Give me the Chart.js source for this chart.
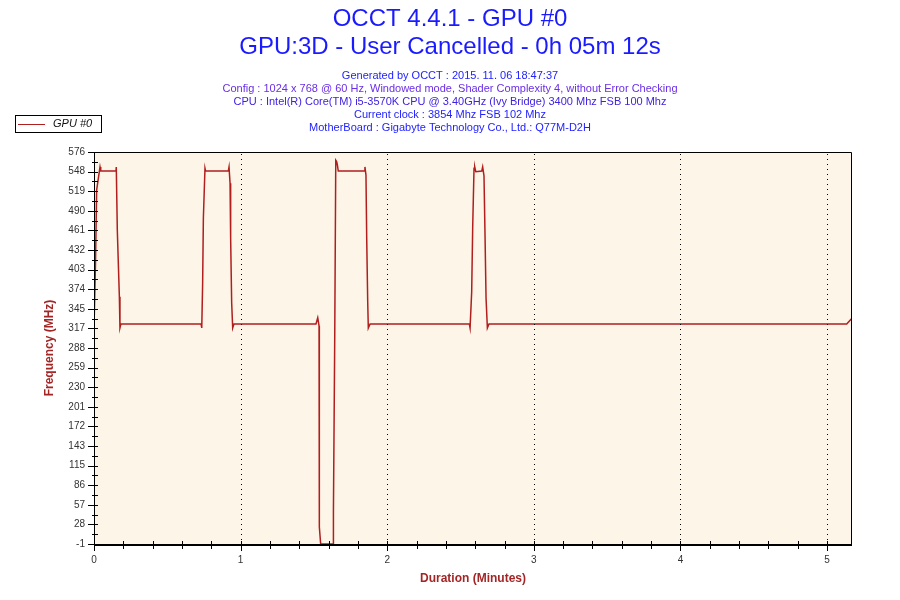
<!DOCTYPE html>
<html>
<head>
<meta charset="utf-8">
<script src="https://cdn.jsdelivr.net/npm/chart.js@4/dist/chart.umd.min.js"></script>
<style>
  html, body { margin: 0; padding: 0; background: #fff; }
  #wrap { width: 900px; height: 600px; }
</style>
</head>
<body>
<div id="wrap"><canvas id="gpuChart" width="900" height="600"></canvas></div>
<script>
// readings (minutes, MHz)
const times = [0, 0.010, 0.018, 0.041, 0.046, 0.150, 0.152, 0.159, 0.173, 0.177, 0.184,
  0.730, 0.735, 0.741, 0.746, 0.757, 0.761, 0.916, 0.921, 0.928, 0.932, 0.939, 0.946, 0.955,
  1.514, 1.526, 1.535, 1.537, 1.546, 1.632, 1.633, 1.642, 1.649, 1.655, 1.660, 1.666,
  1.844, 1.848, 1.855, 1.860, 1.867, 1.871, 1.883,
  2.560, 2.565, 2.576, 2.583, 2.592, 2.597, 2.604, 2.645, 2.651, 2.660, 2.667, 2.674, 2.683, 2.694,
  5.134, 5.168, 5.170];
const freqs = [317, 410, 520, 554, 548, 548, 554, 461, 363, 317, 323,
  323, 317, 383, 479, 552, 548, 548, 554, 530, 449, 354, 317, 323,
  323, 332, 320, 24, -1, -1, 45, 304, 564, 562, 557, 548,
  548, 554, 542, 449, 354, 317, 323,
  323, 317, 370, 466, 552, 554, 547, 548, 554, 541, 454, 361, 317, 323,
  323, 331, 331];

const yTickLabels = ['-1', '28', '57', '86', '115', '143', '172', '201', '230', '259', '288',
  '317', '345', '374', '403', '432', '461', '490', '519', '548', '576'];
const xTickLabels = ['0', '1', '2', '3', '4', '5'];

const titleLines = ['OCCT 4.4.1 - GPU #0', 'GPU:3D - User Cancelled - 0h 05m 12s'];
const infoLines = [
  'Generated by OCCT : 2015. 11. 06 18:47:37',
  'Config : 1024 x 768 @ 60 Hz, Windowed mode, Shader Complexity 4, without Error Checking',
  'CPU : Intel(R) Core(TM) i5-3570K CPU @ 3.40GHz (Ivy Bridge) 3400 Mhz FSB 100 Mhz',
  'Current clock : 3854 Mhz FSB 102 Mhz',
  'MotherBoard : Gigabyte Technology Co., Ltd.: Q77M-D2H'
];
const infoColors = ['#2222ff', '#6a2fe6', '#3f22e0', '#2222ff', '#2222ff'];

const yMin = -1, yMax = 576, xMax = 5.17;
const lineColor = '#b01e1e';

const occtDecor = {
  id: 'occtDecor',
  beforeDraw(chart) {
    const { ctx, chartArea: a } = chart;
    ctx.save();
    ctx.fillStyle = '#fdf6e8';
    ctx.fillRect(a.left, a.top, a.right - a.left, a.bottom - a.top);
    ctx.restore();
  },
  afterDraw(chart) {
    const { ctx, chartArea: a } = chart;
    const xs = chart.scales.x, ys = chart.scales.y;
    ctx.save();

    // dotted minute lines
    ctx.strokeStyle = '#000';
    ctx.lineWidth = 1;
    ctx.setLineDash([1, 4]);
    xTickLabels.forEach((l, i) => {
      if (i === 0) return;
      const px = Math.round(xs.getPixelForValue(i)) + 0.5;
      ctx.beginPath(); ctx.moveTo(px, a.top + 2); ctx.lineTo(px, a.bottom); ctx.stroke();
    });
    ctx.setLineDash([]);

    // frame
    ctx.strokeStyle = '#000';
    ctx.lineWidth = 1;
    ctx.beginPath();
    ctx.moveTo(a.left + 0.5, a.bottom); ctx.lineTo(a.left + 0.5, a.top + 0.5);
    ctx.lineTo(a.right - 0.5, a.top + 0.5); ctx.lineTo(a.right - 0.5, a.bottom);
    ctx.stroke();
    ctx.lineWidth = 2;
    ctx.beginPath(); ctx.moveTo(a.left, a.bottom + 1); ctx.lineTo(a.right, a.bottom + 1); ctx.stroke();

    // y tick marks
    ctx.lineWidth = 1;
    ys.ticks.forEach((t, i) => {
      const py = Math.round(ys.getPixelForValue(t.value)) + 0.5;
      const out = i % 2 === 0 ? 6 : 2;
      ctx.beginPath(); ctx.moveTo(a.left - out, py); ctx.lineTo(a.left + 4, py); ctx.stroke();
    });
    // x tick marks
    xs.ticks.forEach((t, i) => {
      const px = Math.round(xs.getPixelForValue(t.value)) + 0.5;
      const down = i % 5 === 0 ? 7 : 5;
      ctx.beginPath(); ctx.moveTo(px, a.bottom - 3); ctx.lineTo(px, a.bottom + down); ctx.stroke();
    });

    // titles
    ctx.textAlign = 'center';
    ctx.textBaseline = 'middle';
    ctx.fillStyle = '#1a1aff';
    ctx.font = '24px "Liberation Sans", Arial, sans-serif';
    ctx.fillText(titleLines[0], 450, 19);
    ctx.fillText(titleLines[1], 450, 47);
    ctx.font = '11px "Liberation Sans", Arial, sans-serif';
    infoLines.forEach((l, i) => {
      ctx.fillStyle = infoColors[i];
      ctx.fillText(l, 450, 75.5 + i * 13);
    });

    // axis titles
    ctx.fillStyle = '#a32626';
    ctx.font = 'bold 12px "Liberation Sans", Arial, sans-serif';
    ctx.fillText('Duration (Minutes)', (a.left + a.right) / 2, 579);
    ctx.save();
    ctx.translate(50, (a.top + a.bottom) / 2);
    ctx.rotate(-Math.PI / 2);
    ctx.fillText('Frequency (MHz)', 0, 0);
    ctx.restore();

    // legend box
    ctx.fillStyle = '#fff';
    ctx.fillRect(15, 115, 86, 17);
    ctx.strokeStyle = '#000';
    ctx.lineWidth = 1;
    ctx.strokeRect(15.5, 115.5, 86, 17);
    ctx.strokeStyle = lineColor;
    ctx.beginPath(); ctx.moveTo(18, 124.5); ctx.lineTo(45, 124.5); ctx.stroke();
    ctx.fillStyle = '#111';
    ctx.textAlign = 'left';
    ctx.font = 'italic 11px "Liberation Sans", Arial, sans-serif';
    ctx.fillText(chart.data.datasets[0].label, 53, 124);

    ctx.restore();
  }
};

new Chart(document.getElementById('gpuChart').getContext('2d'), {
  type: 'line',
  data: {
    datasets: [{
      label: 'GPU #0',
      data: times.map((t, i) => ({ x: t, y: freqs[i] })),
      borderColor: lineColor,
      borderWidth: 1.5,
      pointRadius: 0,
      tension: 0,
      fill: false
    }]
  },
  options: {
    responsive: false,
    animation: false,
    events: [],
    layout: { padding: { left: 0, top: 152, right: 48, bottom: 0 } },
    plugins: { legend: { display: false }, title: { display: false }, tooltip: { enabled: false } },
    scales: {
      x: {
        type: 'linear',
        min: 0,
        max: xMax,
        afterFit(s) { s.height = 56; },
        afterBuildTicks(s) {
          const t = [];
          for (let k = 0; k * 0.2 <= xMax + 1e-9; k++) t.push({ value: k * 0.2 });
          s.ticks = t;
        },
        border: { display: false },
        grid: { display: false, drawTicks: false },
        ticks: {
          autoSkip: false,
          maxRotation: 0,
          padding: 10,
          color: '#333',
          font: { size: 10, family: '"Liberation Sans", Arial, sans-serif' },
          callback: (v, i) => (i % 5 === 0 ? xTickLabels[i / 5] : '')
        }
      },
      y: {
        type: 'linear',
        min: yMin,
        max: yMax,
        afterFit(s) { s.width = 94; },
        afterBuildTicks(s) {
          const t = [];
          const n = (yTickLabels.length - 1) * 2;
          for (let k = 0; k <= n; k++) t.push({ value: yMin + k * (yMax - yMin) / n });
          s.ticks = t;
        },
        border: { display: false },
        grid: { display: false, drawTicks: false },
        ticks: {
          autoSkip: false,
          padding: 9,
          color: '#333',
          font: { size: 10, family: '"Liberation Sans", Arial, sans-serif' },
          callback: (v, i) => (i % 2 === 0 ? yTickLabels[i / 2] : '')
        }
      }
    }
  },
  plugins: [occtDecor]
});
</script>
</body>
</html>
